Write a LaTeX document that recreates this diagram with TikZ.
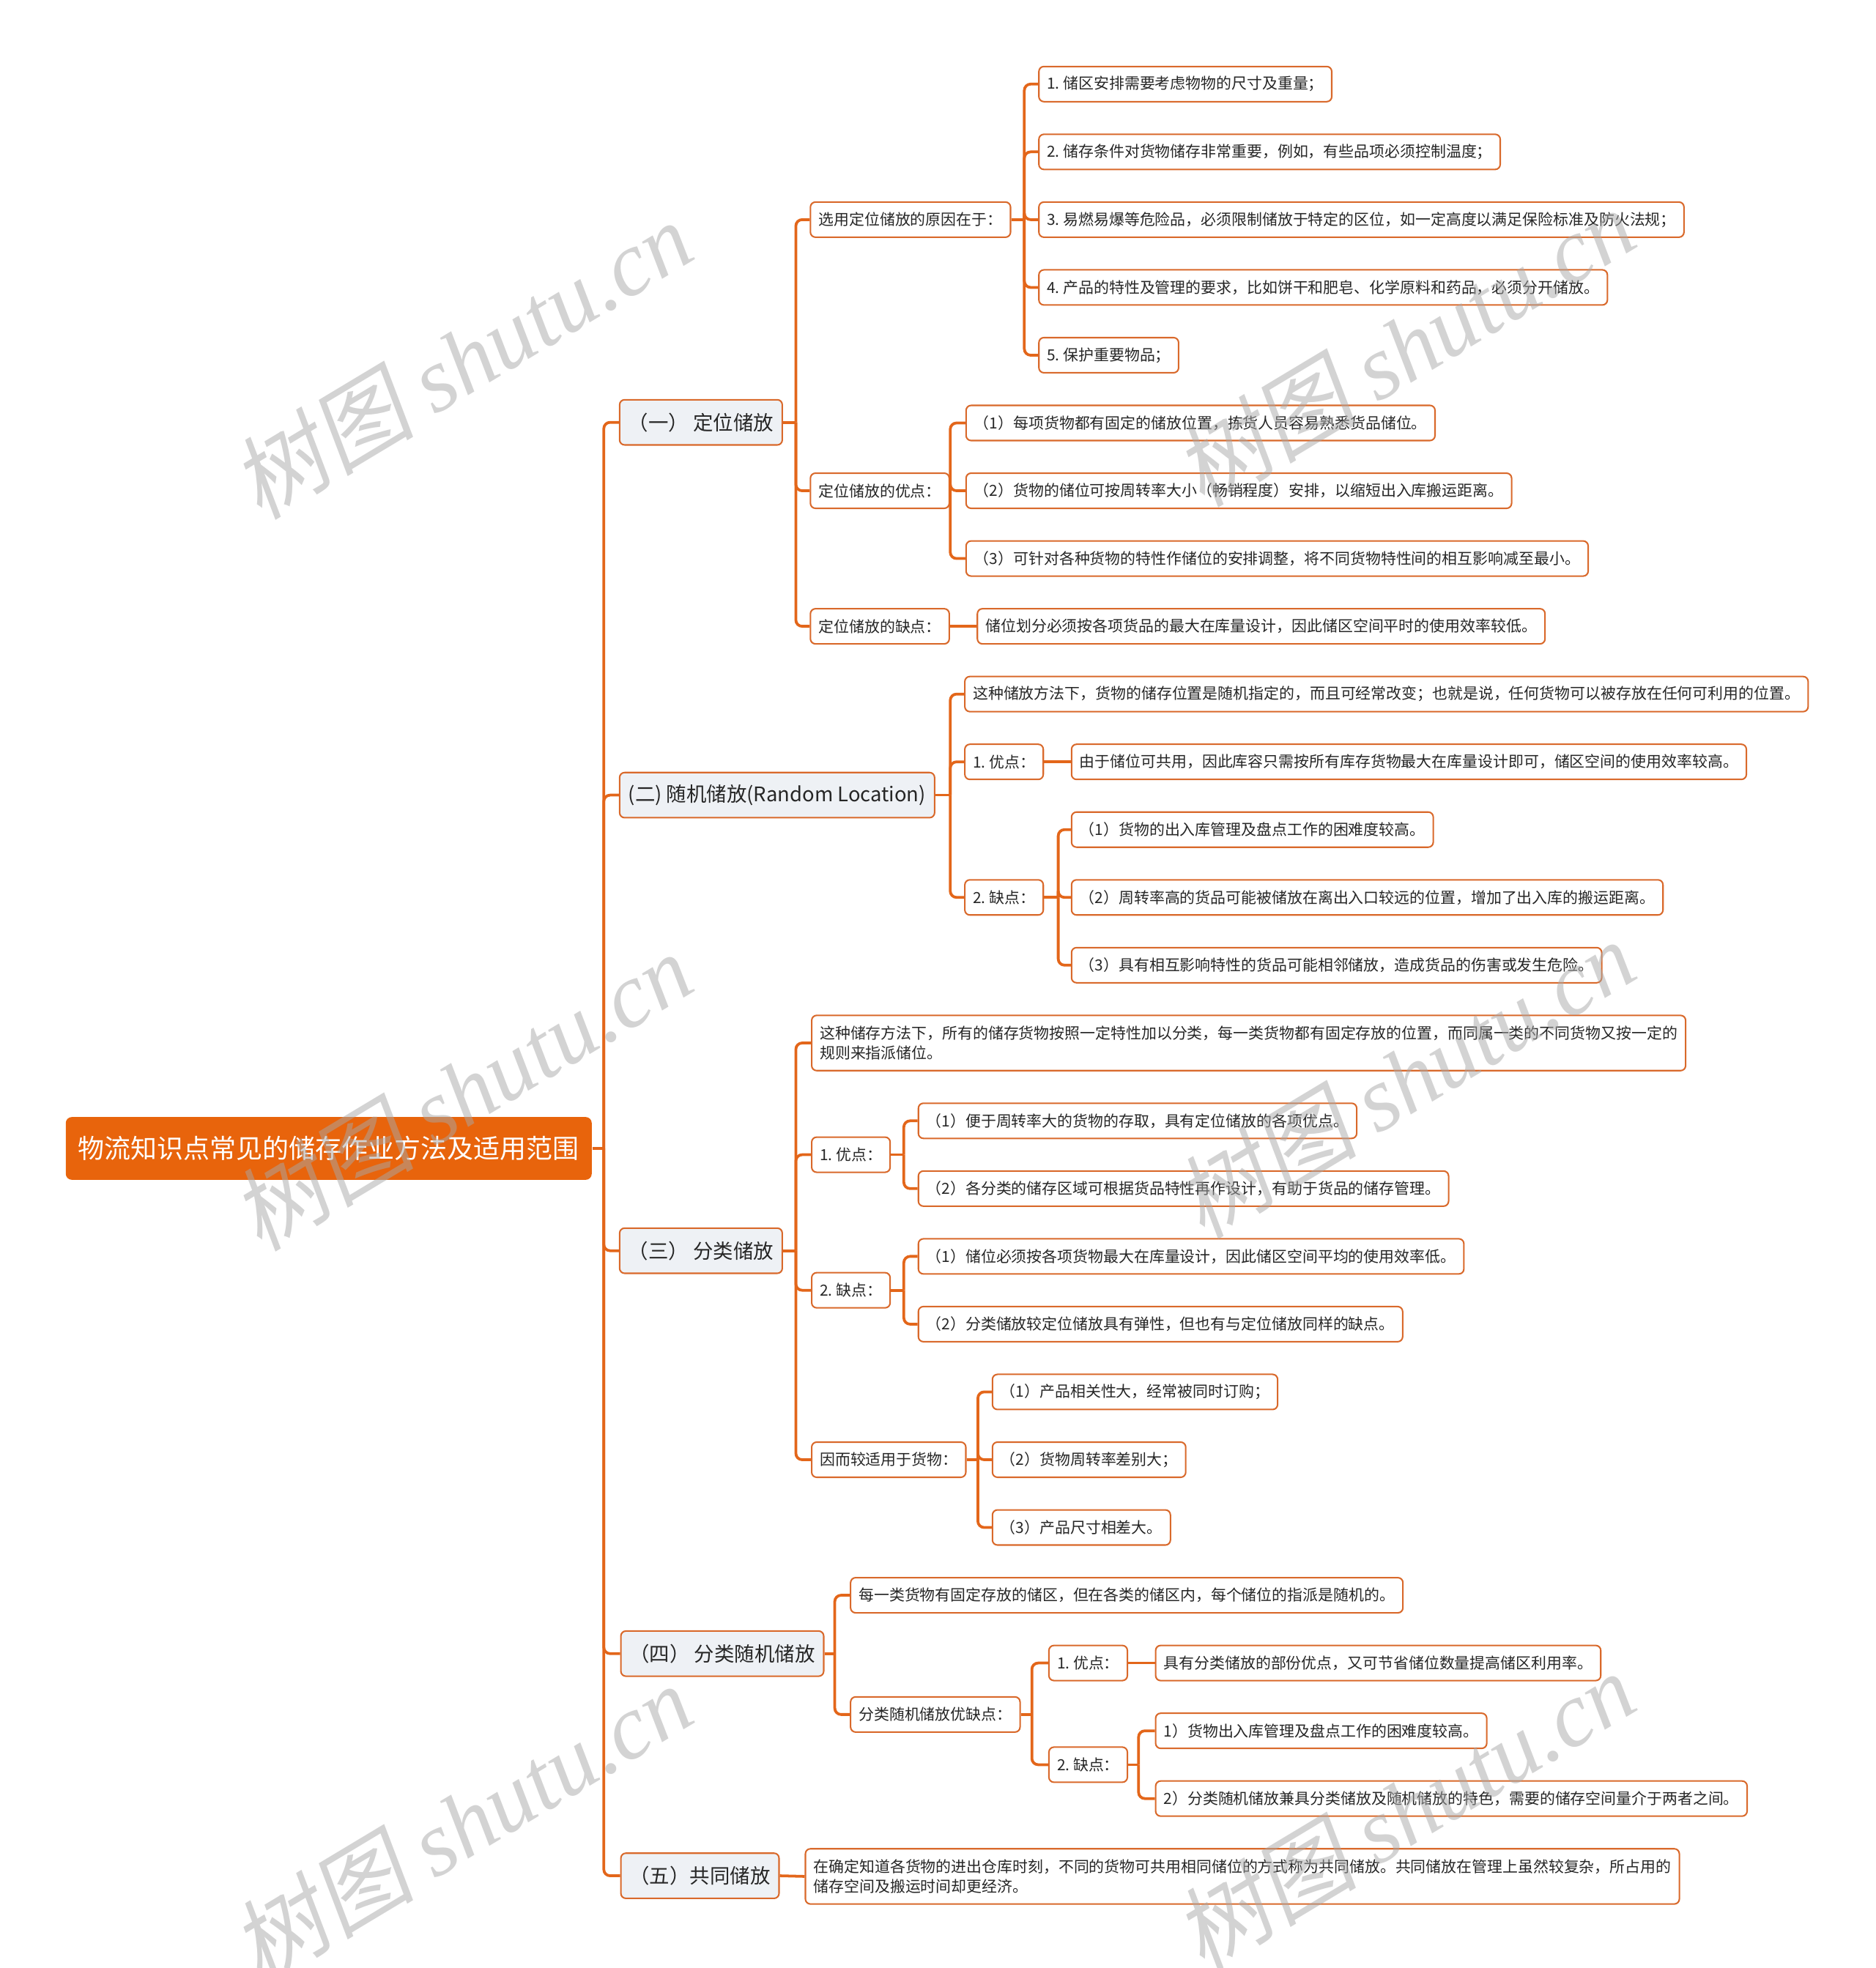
\documentclass[tikz,border=0pt]{standalone}
\usepackage{fontspec}
\setmainfont{Noto Sans CJK SC}
\newfontfamily\wmlat{Liberation Serif}
\newfontfamily\wmcjk{Noto Sans CJK SC}[FakeSlant=0.18]
\definecolor{rootc}{HTML}{E8640C}
\definecolor{linec}{HTML}{E3661A}
\definecolor{borderc}{HTML}{D9692B}
\definecolor{topicfill}{HTML}{EEF1F5}
\definecolor{txt}{HTML}{262626}
\definecolor{wmc}{HTML}{A8A8A8}
\frenchspacing
\begin{document}
\begin{tikzpicture}[x=0.5pt,y=-0.5pt,
  conn/.style={draw=linec, line width=1.1pt, rounded corners=2.5pt},
  rootbox/.style={fill=rootc, text=white, rounded corners=2.4pt, anchor=west, minimum height=25pt, inner xsep=5pt, inner ysep=0pt, font=\fontsize{10.5}{12}\selectfont},
  topic/.style={draw=borderc, line width=0.6pt, fill=topicfill, rounded corners=2pt, anchor=west, minimum height=18pt, inner xsep=3.5pt, inner ysep=0pt, text=txt, font=\fontsize{8}{10}\selectfont},
  leaf/.style={draw=borderc, line width=0.6pt, fill=white, rounded corners=2pt, anchor=west, minimum height=14pt, inner xsep=3.25pt, inner ysep=0pt, text=txt, font=\fontsize{6.1}{8}\selectfont},
  leaftwo/.style={leaf, align=left, minimum height=22pt},
  wm/.style={text=wmc, opacity=0.5, rotate=31, anchor=base, font=\fontsize{36.5}{40}\selectfont}
]
\useasboundingbox (0,0) rectangle (1494,1568);

% root and level 1
\node[rootbox] (root) at (52,915) {物流知识点常见的储存作业方法及适用范围};
\node[topic] (n1) at (493,336.5) {（一） 定位储放};
\node[topic] (n2) at (493,633.5) {(二) 随机储放(Random Location)};
\node[topic] (n3) at (493,996.5) {（三） 分类储放};
\node[topic] (n4) at (494,1317.5) {（四） 分类随机储放};
\node[topic] (n5) at (494,1494.5) {（五）共同储放};

% branch 1
\node[leaf] (a1) at (645,175) {选用定位储放的原因在于：};
\node[leaf] (a11) at (827,67) {1. 储区安排需要考虑物物的尺寸及重量；};
\node[leaf] (a12) at (827,121) {2. 储存条件对货物储存非常重要，例如，有些品项必须控制温度；};
\node[leaf] (a13) at (827,175) {3. 易燃易爆等危险品，必须限制储放于特定的区位，如一定高度以满足保险标准及防火法规；};
\node[leaf] (a14) at (827,229) {4. 产品的特性及管理的要求，比如饼干和肥皂、化学原料和药品，必须分开储放。};
\node[leaf] (a15) at (827,283) {5. 保护重要物品；};
\node[leaf] (a2) at (645,391) {定位储放的优点：};
\node[leaf] (a21) at (769,337) {（1）每项货物都有固定的储放位置，拣货人员容易熟悉货品储位。};
\node[leaf] (a22) at (769,391) {（2）货物的储位可按周转率大小（畅销程度）安排，以缩短出入库搬运距离。};
\node[leaf] (a23) at (769,445) {（3）可针对各种货物的特性作储位的安排调整，将不同货物特性间的相互影响减至最小。};
\node[leaf] (a3) at (645,499) {定位储放的缺点：};
\node[leaf] (a31) at (778,499) {储位划分必须按各项货品的最大在库量设计，因此储区空间平时的使用效率较低。};

% branch 2
\node[leaf] (b1) at (768,553) {这种储放方法下，货物的储存位置是随机指定的，而且可经常改变；也就是说，任何货物可以被存放在任何可利用的位置。};
\node[leaf] (b2) at (768,607) {1. 优点：};
\node[leaf] (b21) at (853,607) {由于储位可共用，因此库容只需按所有库存货物最大在库量设计即可，储区空间的使用效率较高。};
\node[leaf] (b3) at (768,715) {2. 缺点：};
\node[leaf] (b31) at (853,661) {（1）货物的出入库管理及盘点工作的困难度较高。};
\node[leaf] (b32) at (853,715) {（2）周转率高的货品可能被储放在离出入口较远的位置，增加了出入库的搬运距离。};
\node[leaf] (b33) at (853,769) {（3）具有相互影响特性的货品可能相邻储放，造成货品的伤害或发生危险。};

% branch 3
\node[leaftwo] (c1) at (646,831) {这种储存方法下，所有的储存货物按照一定特性加以分类，每一类货物都有固定存放的位置，而同属一类的不同货物又按一定的\\规则来指派储位。};
\node[leaf] (c2) at (646,920) {1. 优点：};
\node[leaf] (c21) at (731,893) {（1）便于周转率大的货物的存取，具有定位储放的各项优点。};
\node[leaf] (c22) at (731,947) {（2）各分类的储存区域可根据货品特性再作设计，有助于货品的储存管理。};
\node[leaf] (c3) at (646,1028) {2. 缺点：};
\node[leaf] (c31) at (731,1001) {（1）储位必须按各项货物最大在库量设计，因此储区空间平均的使用效率低。};
\node[leaf] (c32) at (731,1055) {（2）分类储放较定位储放具有弹性，但也有与定位储放同样的缺点。};
\node[leaf] (c4) at (646,1163) {因而较适用于货物：};
\node[leaf] (c41) at (790,1109) {（1）产品相关性大，经常被同时订购；};
\node[leaf] (c42) at (790,1163) {（2）货物周转率差别大；};
\node[leaf] (c43) at (790,1217) {（3）产品尺寸相差大。};

% branch 4
\node[leaf] (d1) at (677,1271) {每一类货物有固定存放的储区，但在各类的储区内，每个储位的指派是随机的。};
\node[leaf] (d2) at (677,1366) {分类随机储放优缺点：};
\node[leaf] (d21) at (835,1325) {1. 优点：};
\node[leaf] (d211) at (920,1325) {具有分类储放的部份优点，又可节省储位数量提高储区利用率。};
\node[leaf] (d22) at (835,1406) {2. 缺点：};
\node[leaf] (d221) at (920,1379) {1）货物出入库管理及盘点工作的困难度较高。};
\node[leaf] (d222) at (920,1433) {2）分类随机储放兼具分类储放及随机储放的特色，需要的储存空间量介于两者之间。};

% branch 5
\node[leaftwo] (e1) at (641,1495) {在确定知道各货物的进出仓库时刻，不同的货物可共用相同储位的方式称为共同储放。共同储放在管理上虽然较复杂，所占用的\\储存空间及搬运时间却更经济。};

% spine coordinates
\coordinate (tr) at (481,0);
\coordinate (s1) at (634,0);
\coordinate (s2) at (757,0);
\coordinate (s3) at (634,0);
\coordinate (s4) at (665,0);
\coordinate (sa1) at (816,0);
\coordinate (sa2) at (757,0);
\coordinate (sb3) at (843,0);
\coordinate (sc2) at (720,0);
\coordinate (sc3) at (720,0);
\coordinate (sc4) at (779,0);
\coordinate (sd2) at (822,0);
\coordinate (sd22) at (907,0);

% connectors
\draw[conn] (root.east) -- (root.east -| tr);
\foreach \c in {n1,n2,n3,n4,n5} \draw[conn] (root.east -| tr) |- (\c.west);

\draw[conn] (n1.east) -- (n1.east -| s1);
\foreach \c in {a1,a2,a3} \draw[conn] (n1.east -| s1) |- (\c.west);
\draw[conn] (a1.east) -- (a1.east -| sa1);
\foreach \c in {a11,a12,a13,a14,a15} \draw[conn] (a1.east -| sa1) |- (\c.west);
\draw[conn] (a2.east) -- (a2.east -| sa2);
\foreach \c in {a21,a22,a23} \draw[conn] (a2.east -| sa2) |- (\c.west);
\draw[conn] (a3.east) -- (a31.west);

\draw[conn] (n2.east) -- (n2.east -| s2);
\foreach \c in {b1,b2,b3} \draw[conn] (n2.east -| s2) |- (\c.west);
\draw[conn] (b2.east) -- (b21.west);
\draw[conn] (b3.east) -- (b3.east -| sb3);
\foreach \c in {b31,b32,b33} \draw[conn] (b3.east -| sb3) |- (\c.west);

\draw[conn] (n3.east) -- (n3.east -| s3);
\foreach \c in {c1,c2,c3,c4} \draw[conn] (n3.east -| s3) |- (\c.west);
\draw[conn] (c2.east) -- (c2.east -| sc2);
\foreach \c in {c21,c22} \draw[conn] (c2.east -| sc2) |- (\c.west);
\draw[conn] (c3.east) -- (c3.east -| sc3);
\foreach \c in {c31,c32} \draw[conn] (c3.east -| sc3) |- (\c.west);
\draw[conn] (c4.east) -- (c4.east -| sc4);
\foreach \c in {c41,c42,c43} \draw[conn] (c4.east -| sc4) |- (\c.west);

\draw[conn] (n4.east) -- (n4.east -| s4);
\foreach \c in {d1,d2} \draw[conn] (n4.east -| s4) |- (\c.west);
\draw[conn] (d2.east) -- (d2.east -| sd2);
\foreach \c in {d21,d22} \draw[conn] (d2.east -| sd2) |- (\c.west);
\draw[conn] (d21.east) -- (d211.west);
\draw[conn] (d22.east) -- (d22.east -| sd22);
\foreach \c in {d221,d222} \draw[conn] (d22.east -| sd22) |- (\c.west);

\draw[conn] (n5.east) -- (e1.west);

% watermarks
\foreach \wx/\wy [count=\i] in {382/310, 382/893, 382/1476, 1133/300, 1133/883, 1133/1466}
  \node[wm] (wm\i) at (\wx,\wy) {{\wmcjk 树图} {\wmlat\itshape shutu.cn}};
\end{tikzpicture}
\end{document}
